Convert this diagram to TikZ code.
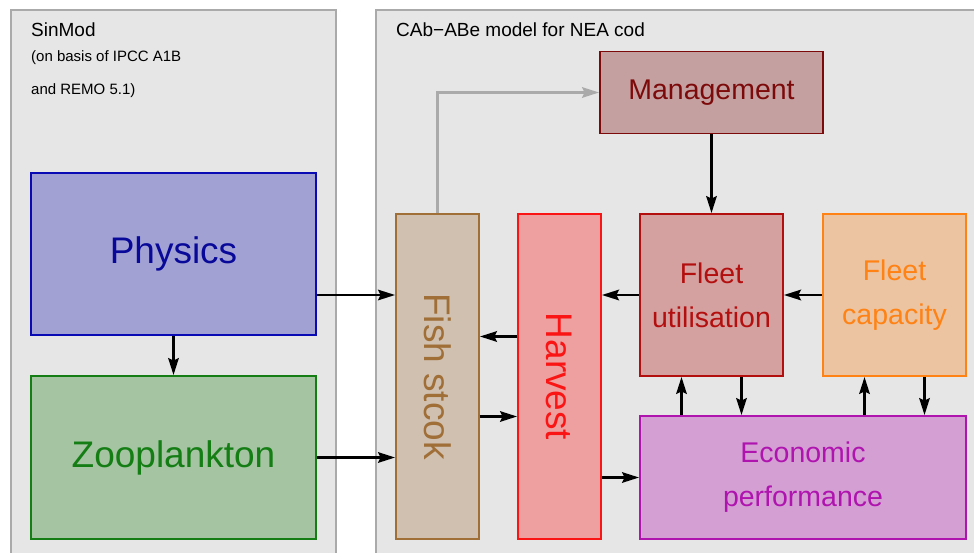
\documentclass[tikz,border=0pt]{standalone}
\usepackage{fontspec}
\setmainfont{Liberation Sans}
\usetikzlibrary{arrows.meta}
\definecolor{PanelGrey}{RGB}{230,230,230}
\definecolor{PanelEdge}{RGB}{170,170,170}
\definecolor{PhysFill}{RGB}{161,161,212}
\definecolor{PhysEdge}{RGB}{10,10,180}
\definecolor{ZooFill}{RGB}{164,196,162}
\definecolor{ZooEdge}{RGB}{20,125,20}
\definecolor{FishFill}{RGB}{208,192,176}
\definecolor{FishEdge}{RGB}{160,110,55}
\definecolor{HarvFill}{RGB}{238,160,160}
\definecolor{HarvEdge}{RGB}{250,20,20}
\definecolor{MgmtFill}{RGB}{196,160,160}
\definecolor{MgmtEdge}{RGB}{125,10,10}
\definecolor{UtilFill}{RGB}{212,160,160}
\definecolor{UtilEdge}{RGB}{180,15,15}
\definecolor{CapFill}{RGB}{236,196,162}
\definecolor{CapEdge}{RGB}{255,130,20}
\definecolor{EconFill}{RGB}{212,160,212}
\definecolor{EconEdge}{RGB}{175,20,175}
\definecolor{FeedGrey}{RGB}{170,170,170}

\begin{document}
\begin{tikzpicture}[x=1pt, y=-1pt, >={Stealth[length=17pt,width=10.5pt,inset=2.5pt]},
  panel/.style={draw=PanelEdge, line width=2pt, fill=PanelGrey},
  blk/.style={line width=1.8pt, inner sep=0pt, align=center},
  big/.style={font=\fontsize{37}{44}\selectfont},
  mid/.style={font=\fontsize{28.5}{44}\selectfont},
  sig/.style={->, line width=2.6pt},
  ttl/.style={anchor=base west, inner sep=0pt, font=\fontsize{19}{22}\selectfont},
  sub/.style={anchor=base west, inner sep=0pt, font=\fontsize{15}{17}\selectfont}]

  \useasboundingbox (0,0) rectangle (974,553);
  \clip (0,0) rectangle (974,553);

  % the two model panels
  \draw[panel] (11,10) rectangle (336,580);
  \draw[panel] (376,10) rectangle (1000,580);
  \node[ttl] (sinmod) at (31,37) {SinMod};
  \node[sub] (ipcc) at (31,62) {(on basis of IPCC A1B};
  \node[sub] (remo) at (31,95) {and REMO 5.1)};
  \node[ttl] (cabbe) at (396,37) {CAb\textminus ABe model for NEA cod};

  % SinMod side
  \node[blk, big, draw=PhysEdge, fill=PhysFill, text=PhysEdge!85!black,
        minimum width=285pt, minimum height=162pt] (phys) at (173.5,254) {Physics};
  \node[blk, big, draw=ZooEdge, fill=ZooFill, text=ZooEdge,
        minimum width=285pt, minimum height=163pt] (zoo) at (173.5,457.5) {Zooplankton};

  % CAb-ABe side
  \node[blk, draw=FishEdge, fill=FishFill, minimum width=83pt, minimum height=325pt] (fish) at (437.5,376.5) {};
  \node[big, text=FishEdge, rotate=-90] at (fish.center) {Fish stcok};
  \node[blk, draw=HarvEdge, fill=HarvFill, minimum width=83pt, minimum height=325pt] (harv) at (559.5,376.5) {};
  \node[big, text=HarvEdge, rotate=-90] at (harv.center) {Harvest};
  \node[blk, mid, draw=MgmtEdge, fill=MgmtFill, text=MgmtEdge,
        minimum width=223pt, minimum height=82pt] (mgmt) at (711.5,92.5) {Management};
  \node[blk, mid, draw=UtilEdge, fill=UtilFill, text=UtilEdge,
        minimum width=143pt, minimum height=162pt] (util) at (711.5,295) {Fleet\\utilisation};
  \node[blk, mid, draw=CapEdge, fill=CapFill, text=CapEdge,
        minimum width=143pt, minimum height=162pt] (cap) at (894.5,295) {Fleet\\capacity};
  \node[blk, mid, draw=EconEdge, fill=EconFill, text=EconEdge,
        minimum width=326pt, minimum height=123pt] (econ) at (803,477.5) {Economic\\performance};

  % links
  \draw[sig] (phys.south) -- (zoo.north);
  \draw[sig] (phys.east |- util.west) -- (fish.west |- util.west);
  \draw[sig] (zoo.east) -- (zoo.east -| fish.west);
  \draw[sig] ([yshift=40pt]harv.west) -- ([yshift=40pt]fish.east);
  \draw[sig] ([yshift=-40pt]fish.east) -- ([yshift=-40pt]harv.west);
  \draw[sig] (harv.east |- econ.west) -- (econ.west);
  \draw[sig] (util.west) -- (util.west -| harv.east);
  \draw[sig] (cap.west) -- (util.east);
  \draw[sig] (mgmt.south) -- (util.north);
  \draw[sig] ([xshift=-30pt]util.south |- econ.north) -- ([xshift=-30pt]util.south);
  \draw[sig] ([xshift=30pt]util.south) -- ([xshift=30pt]util.south |- econ.north);
  \draw[sig] ([xshift=-30pt]cap.south |- econ.north) -- ([xshift=-30pt]cap.south);
  \draw[sig] ([xshift=30pt]cap.south) -- ([xshift=30pt]cap.south |- econ.north);
  \draw[sig, FeedGrey] (fish.north) |- (mgmt.west);
\end{tikzpicture}
\end{document}
